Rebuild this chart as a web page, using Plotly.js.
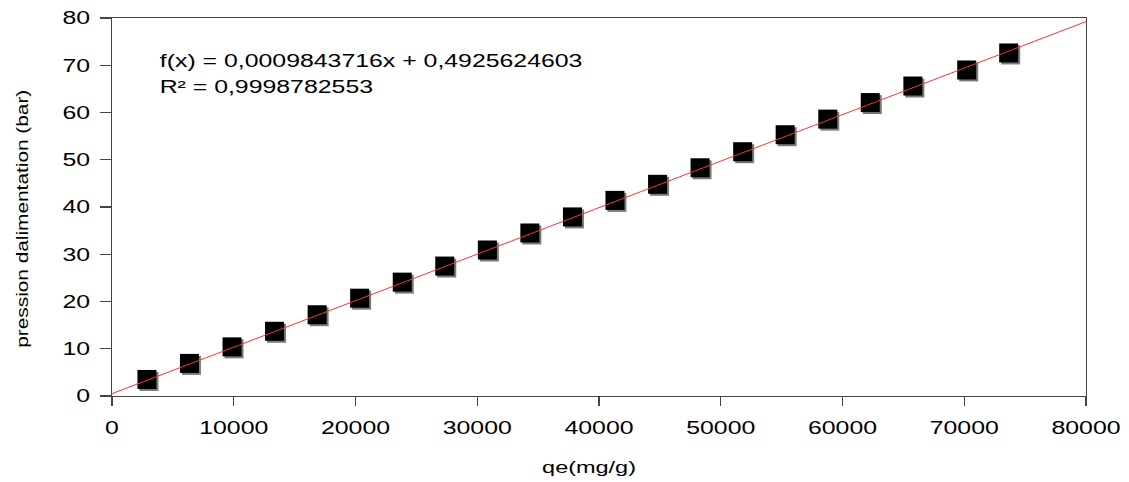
<!DOCTYPE html>
<html>
<head>
<meta charset="utf-8">
<script src="https://cdn.plot.ly/plotly-3.0.1.min.js"></script>
<style>html,body{margin:0;padding:0;background:#fff;}#chart{width:1129px;height:482px;}</style>
</head>
<body>
<div id="chart"></div>
<script>
// Data
const qe = [2870, 6360, 9860, 13350, 16850, 20340, 23840, 27330, 30830, 34320, 37820, 41310, 44810, 48300, 51800, 55290, 58790, 62280, 65780, 70200, 73650];
const pression = [3.5, 6.9, 10.4, 13.7, 17.2, 20.7, 24.1, 27.5, 30.9, 34.5, 37.9, 41.4, 44.8, 48.3, 51.7, 55.3, 58.6, 62.1, 65.6, 69.0, 72.6];
const slope = 0.0009843716;
const intercept = 0.4925624603;
const fitX = [0, 80000];
const fitY = fitX.map(x => slope * x + intercept);
const eqText = "f(x) = 0,0009843716x + 0,4925624603";
const r2Text = "R² = 0,9998782553";
const xTitle = "qe(mg/g)";
const yTitle = "pression dalimentation (bar)";
const xTicks = [0, 10000, 20000, 30000, 40000, 50000, 60000, 70000, 80000];
const yTicks = [0, 10, 20, 30, 40, 50, 60, 70, 80];

const FONT = "Liberation Sans, Arial, sans-serif";
const plotW = 974, plotH = 378;
const xRange = [0, 80000], yRange = [0, 80];
const shadowPx = 2;
const dx = shadowPx * (xRange[1] - xRange[0]) / plotW;
const dy = shadowPx * (yRange[1] - yRange[0]) / plotH;

const traces = [
  // anchor trace for the visible main axes (not drawn)
  {x: qe, y: pression, mode: 'markers', type: 'scatter',
   marker: {symbol: 'square', size: 19, color: '#000', opacity: 0}},
  // marker shadow
  {x: qe, y: pression, xaxis: 'x2', yaxis: 'y2', mode: 'markers', type: 'scatter',
   marker: {symbol: 'square', size: 19, color: '#7a7a7a', line: {width: 0}}},
  // markers
  {x: qe, y: pression, xaxis: 'x3', yaxis: 'y3', mode: 'markers', type: 'scatter',
   marker: {symbol: 'square', size: 19, color: '#000000', line: {width: 0}}},
  // linear fit
  {x: fitX, y: fitY, xaxis: 'x4', yaxis: 'y4', mode: 'lines', type: 'scatter',
   line: {color: '#ff3333', width: 1}}
];

const hiddenAx = (r, extra) => Object.assign({range: r, visible: false, fixedrange: true}, extra);

const layout = {
  width: 1129, height: 482,
  margin: {l: 112, r: 43, t: 18, b: 86},
  paper_bgcolor: '#fff', plot_bgcolor: '#fff',
  showlegend: false,
  font: {family: FONT, color: '#000', size: 18},
  xaxis: {
    range: xRange, tickvals: xTicks, ticktext: xTicks.map(String),
    showgrid: false, zeroline: false,
    showline: true, linecolor: '#444', linewidth: 1.3, mirror: true,
    ticks: 'outside', ticklen: 9, tickwidth: 1.3, tickcolor: '#444',
    tickfont: {family: FONT, size: 18, color: '#000'},
    ticklabelstandoff: 6
  },
  yaxis: {
    range: yRange, tickvals: yTicks, ticktext: yTicks.map(String),
    showgrid: false, zeroline: false,
    showline: true, linecolor: '#444', linewidth: 1.3, mirror: true,
    ticks: 'outside', ticklen: 11, tickwidth: 1.3, tickcolor: '#444',
    tickfont: {family: FONT, size: 18, color: '#000'},
    ticklabelstandoff: 6
  },
  xaxis2: hiddenAx([xRange[0] - dx, xRange[1] - dx], {overlaying: 'x', anchor: 'y2'}),
  yaxis2: hiddenAx([yRange[0] + dy, yRange[1] + dy], {overlaying: 'y', anchor: 'x2'}),
  xaxis3: hiddenAx(xRange, {overlaying: 'x', anchor: 'y3'}),
  yaxis3: hiddenAx(yRange, {overlaying: 'y', anchor: 'x3'}),
  xaxis4: hiddenAx(xRange, {overlaying: 'x', anchor: 'y4'}),
  yaxis4: hiddenAx(yRange, {overlaying: 'y', anchor: 'x4'}),
  annotations: [
    {text: eqText, xref: 'paper', yref: 'paper', x: 0.266, y: 0.886, xanchor: 'center', yanchor: 'middle',
     showarrow: false, font: {family: FONT, size: 18, color: '#000'}},
    {text: r2Text, xref: 'paper', yref: 'paper', x: 0.159, y: 0.817, xanchor: 'center', yanchor: 'middle',
     showarrow: false, font: {family: FONT, size: 18, color: '#000'}},
    {text: xTitle, xref: 'paper', yref: 'paper', x: 0.4897, y: -0.188, xanchor: 'center', yanchor: 'middle',
     showarrow: false, font: {family: FONT, size: 17, color: '#000'}},
    {text: yTitle, xref: 'paper', yref: 'paper', x: -0.0924, y: 0.468, xanchor: 'center', yanchor: 'middle',
     textangle: -90, showarrow: false, font: {family: FONT, size: 17, color: '#000'}}
  ]
};

const gd = document.getElementById('chart');
Plotly.newPlot(gd, traces, layout, {displayModeBar: false, staticPlot: true}).then(() => {
  const stretch = 1.38;
  const setLen = (t, len) => {
    t.setAttribute('textLength', len.toFixed(1));
    t.setAttribute('lengthAdjust', 'spacingAndGlyphs');
  };
  gd.querySelectorAll('.xtick text, .ytick text').forEach(t => {
    const w = t.getComputedTextLength();
    if (w > 0) setLen(t, w * stretch);
  });
  const ann = gd.querySelectorAll('.annotation-text');
  ann.forEach((t, i) => {
    const w = t.getComputedTextLength();
    if (w <= 0) return;
    if (i === 3) setLen(t, 258);
    else setLen(t, w * stretch);
  });
});
</script>
</body>
</html>
